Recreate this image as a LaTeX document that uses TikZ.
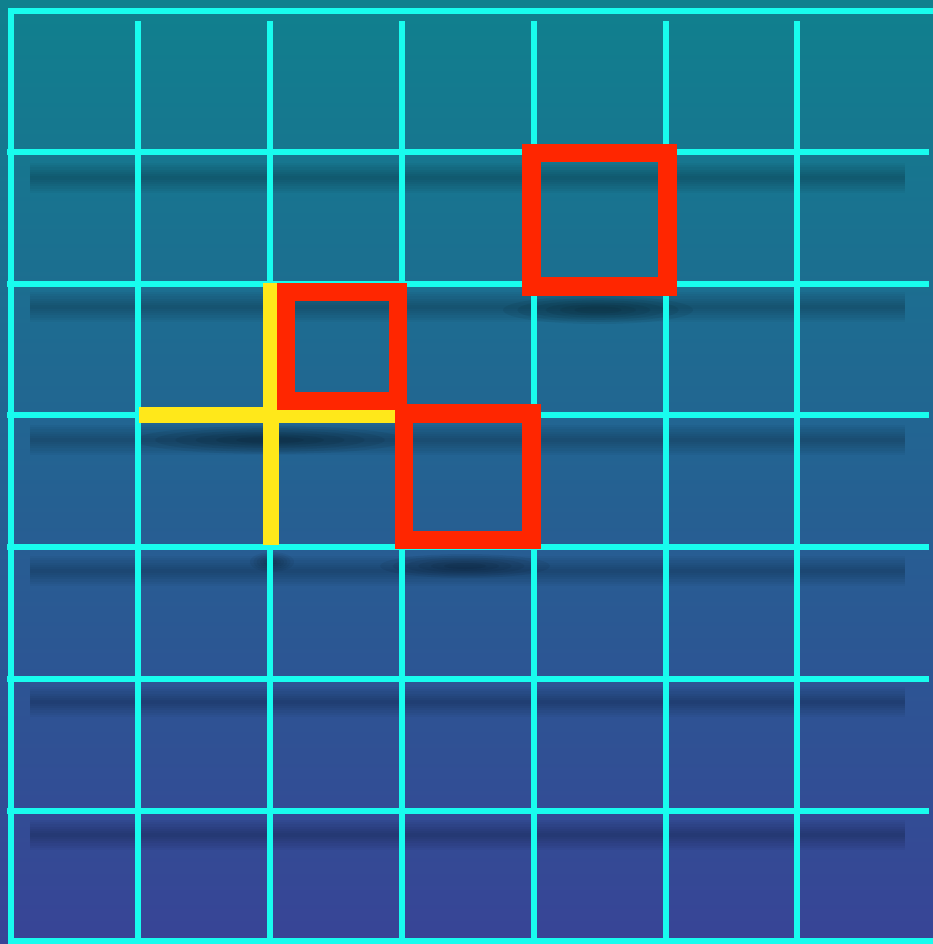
\documentclass[tikz,border=0pt]{standalone}
\usepackage{tikz}
\usetikzlibrary{calc}

\definecolor{gridcyan}{RGB}{24,252,238}
\definecolor{boxred}{RGB}{255,38,0}
\definecolor{crossyellow}{RGB}{255,232,26}
\definecolor{bgtop}{RGB}{16,128,142}
\definecolor{bgmid}{RGB}{34,88,140}
\definecolor{bgbottom}{RGB}{56,68,150}

\tikzset{
  gridline/.style={gridcyan,line width=4.6pt},
  redbox/.style={draw=boxred,line width=15.7pt},
  crossbar/.style={crossyellow,line width=13.8pt},
}

\begin{document}
\begin{tikzpicture}[x=0.03cm,y=-0.03cm]
  \useasboundingbox (0,0) rectangle (933,944);
  % background
  \shade[top color=bgtop,middle color=bgmid,bottom color=bgbottom]
    (0,0) rectangle (933,944);
  % soft shadows under the rows
  \foreach \y in {178,307,440,571,702,835}
    \foreach \w in {26,22,18,14,10,6,3}
      \draw[black,opacity=0.03,line width=\w pt] (30,\y) -- (905,\y);
  % shadows under the pieces
  \foreach \r in {1,0.85,0.7,0.55,0.4,0.25}{
    \fill[black,opacity=0.06] (598,310) ellipse ({95*\r} and {14*\r});
    \fill[black,opacity=0.06] (465,566) ellipse ({85*\r} and {12*\r});
    \fill[black,opacity=0.06] (270,440) ellipse ({135*\r} and {14*\r});
    \fill[black,opacity=0.05] (272,562) ellipse ({22*\r} and {10*\r});
  }
  % grid
  \foreach \x in {138,270,402,534,666,797}
    \draw[gridline] (\x,21) -- (\x,941);
  \foreach \y in {152,284,415,547,679,811}
    \draw[gridline] (7,\y) -- (929,\y);
  \draw[gridline] (8,11) -- (933,11);
  \draw[gridline] (11,11) -- (11,941);
  \draw[gridline] (8,941) -- (933,941);
  % yellow cross
  \draw[crossbar] (271,283) -- (271,545);
  \draw[crossbar] (139,415) -- (395,415);
  % red boxes
  \draw[redbox] (531.5,153) rectangle (667.5,286.5);
  \draw[redbox] (286,292) rectangle (398,401);
  \draw[redbox] (404,413.5) rectangle (531.5,540);
\end{tikzpicture}
\end{document}
